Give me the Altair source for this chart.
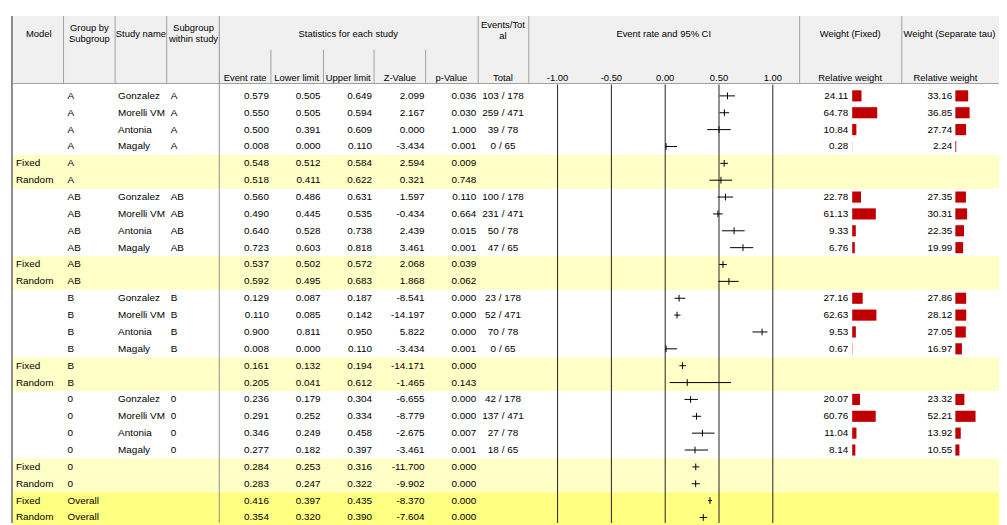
import altair as alt
import pandas as pd

# ---------------- data ----------------
model = ["", "", "", "", "Fixed", "Random"] * 4 + ["Fixed", "Random"]
group = ["A"] * 6 + ["AB"] * 6 + ["B"] * 6 + ["0"] * 6 + ["Overall"] * 2
study = ["Gonzalez", "Morelli VM", "Antonia", "Magaly", "", ""] * 4 + ["", ""]
sub_within = (["A"] * 4 + ["", ""] + ["AB"] * 4 + ["", ""] + ["B"] * 4 + ["", ""]
              + ["0"] * 4 + ["", ""] + ["", ""])
kind = (["study"] * 4 + ["sub"] * 2) * 4 + ["overall"] * 2

event_rate = [0.579, 0.550, 0.500, 0.008, 0.548, 0.518,
              0.560, 0.490, 0.640, 0.723, 0.537, 0.592,
              0.129, 0.110, 0.900, 0.008, 0.161, 0.205,
              0.236, 0.291, 0.346, 0.277, 0.284, 0.283,
              0.416, 0.354]
lower_limit = [0.505, 0.505, 0.391, 0.000, 0.512, 0.411,
               0.486, 0.445, 0.528, 0.603, 0.502, 0.495,
               0.087, 0.085, 0.811, 0.000, 0.132, 0.041,
               0.179, 0.252, 0.249, 0.182, 0.253, 0.247,
               0.397, 0.320]
upper_limit = [0.649, 0.594, 0.609, 0.110, 0.584, 0.622,
               0.631, 0.535, 0.738, 0.818, 0.572, 0.683,
               0.187, 0.142, 0.950, 0.110, 0.194, 0.612,
               0.304, 0.334, 0.458, 0.397, 0.316, 0.322,
               0.435, 0.390]
z_value = [2.099, 2.167, 0.000, -3.434, 2.594, 0.321,
           1.597, -0.434, 2.439, 3.461, 2.068, 1.868,
           -8.541, -14.197, 5.822, -3.434, -14.171, -1.465,
           -6.655, -8.779, -2.675, -3.461, -11.700, -9.902,
           -8.370, -7.604]
p_value = [0.036, 0.030, 1.000, 0.001, 0.009, 0.748,
           0.110, 0.664, 0.015, 0.001, 0.039, 0.062,
           0.000, 0.000, 0.000, 0.001, 0.000, 0.143,
           0.000, 0.000, 0.007, 0.001, 0.000, 0.000,
           0.000, 0.000]
events_total = ["103 / 178", "259 / 471", "39 / 78", "0 / 65", "", "",
                "100 / 178", "231 / 471", "50 / 78", "47 / 65", "", "",
                "23 / 178", "52 / 471", "70 / 78", "0 / 65", "", "",
                "42 / 178", "137 / 471", "27 / 78", "18 / 65", "", "",
                "", ""]
weight_fixed = [24.11, 64.78, 10.84, 0.28, None, None,
                22.78, 61.13, 9.33, 6.76, None, None,
                27.16, 62.63, 9.53, 0.67, None, None,
                20.07, 60.76, 11.04, 8.14, None, None,
                None, None]
weight_sep = [33.16, 36.85, 27.74, 2.24, None, None,
              27.35, 30.31, 22.35, 19.99, None, None,
              27.86, 28.12, 27.05, 16.97, None, None,
              23.32, 52.21, 13.92, 10.55, None, None,
              None, None]

ticks = [-1.0, -0.5, 0.0, 0.5, 1.0]
tick_labels = ["-1.00", "-0.50", "0.00", "0.50", "1.00"]

# ---------------- tables ----------------
def f3(v):
    return f"{v:.3f}"

def f2(v):
    return "" if v is None else f"{v:.2f}"

df = pd.DataFrame({
    "row": list(range(len(model))),
    "model": model, "group": group, "study": study, "within": sub_within,
    "kind": kind,
    "er": event_rate, "lo": lower_limit, "hi": upper_limit,
    "er_s": [f3(v) for v in event_rate],
    "lo_s": [f3(v) for v in lower_limit],
    "hi_s": [f3(v) for v in upper_limit],
    "z_s": [f3(v) for v in z_value],
    "p_s": [f3(v) for v in p_value],
    "ev": events_total,
    "wf": weight_fixed, "ws": weight_sep,
    "wf_s": [f2(v) for v in weight_fixed],
    "ws_s": [f2(v) for v in weight_sep],
})
tick_df = pd.DataFrame({"t": ticks, "lab": tick_labels})
one = pd.DataFrame({"k": [0]})

# ---------------- style ----------------
FONT = "Liberation Sans, Arial, sans-serif"
FS = 10
FSH = 9.5
GRID = "#A0A0A0"
YS = alt.Scale(domain=[-0.5, 25.5], range=[78, 520])
FXS = dict(domain=[-1, 1], range=[554, 771], nice=False, zero=False)


def Y(f):
    return alt.Y(f, type="quantitative", scale=YS, axis=None)


def FX(f):
    return alt.X(f, type="quantitative", scale=alt.Scale(**FXS), axis=None)


def vrule(x, y0, y1, color=GRID, w=1):
    return alt.Chart(one).mark_rule(color=color, strokeWidth=w).encode(
        x=alt.value(x), y=alt.value(y0), y2=alt.value(y1))


def hrule(x0, x1, y, color=GRID, w=1):
    return alt.Chart(one).mark_rule(color=color, strokeWidth=w).encode(
        x=alt.value(x0), x2=alt.value(x1), y=alt.value(y))


def htext(txt, x, y, align="center"):
    return alt.Chart(one).mark_text(
        text=txt, align=align, baseline="middle", font=FONT, fontSize=FSH,
        color="black").encode(x=alt.value(x), y=alt.value(y))


def col_text(field, x, align):
    return alt.Chart(df).mark_text(
        align=align, baseline="middle", font=FONT, fontSize=FS,
        color="black").encode(x=alt.value(x), y=Y("row"), text=f"{field}:N")


layers = []

# header background
layers.append(alt.Chart(one).mark_rect(color="#F0F0F0").encode(
    x=alt.value(5), x2=alt.value(999), y=alt.value(6), y2=alt.value(74)))

# summary row backgrounds
layers.append(
    alt.Chart(df).transform_filter(alt.datum.kind != "study")
    .transform_calculate(y0="datum.row - 0.5", y1="datum.row + 0.5")
    .mark_rect().encode(
        x=alt.value(5), x2=alt.value(999), y=Y("y0"), y2=alt.Y2("y1"),
        color=alt.Color("kind:N", legend=None,
                        scale=alt.Scale(domain=["sub", "overall"],
                                        range=["#FFFFC6", "#FFFF82"]))))

# header lines
for x in [56, 108, 160, 474, 525, 798, 901]:
    layers.append(vrule(x, 6, 74))
for x in [265, 318, 369, 421]:
    layers.append(vrule(x, 40, 74))
layers.append(vrule(213, 6, 517, color="#909090"))
layers.append(hrule(5, 999, 74))
layers.append(vrule(4, 6, 517, color="#8C8C8C", w=2))

# forest gridlines
layers.append(alt.Chart(tick_df).mark_rule(color="#202020", strokeWidth=1).encode(
    x=FX("t"), y=alt.value(75), y2=alt.value(517)))
layers.append(alt.Chart(tick_df).mark_text(
    align="center", baseline="middle", font=FONT, fontSize=FSH, color="black"
).encode(x=FX("t"), y=alt.value(68), text="lab:N"))

# header texts
layers += [
    htext("Model", 31, 24),
    htext("Group by", 82, 18), htext("Subgroup", 82, 29),
    htext("Study name", 134, 24),
    htext("Subgroup", 187, 18), htext("within study", 187, 29),
    htext("Statistics for each study", 343, 24),
    htext("Events/Tot", 499, 15), htext("al", 499, 26),
    htext("Event rate and 95% CI", 661, 24),
    htext("Weight (Fixed)", 849, 24),
    htext("Weight (Separate tau)", 949, 24),
    htext("Event rate", 239, 68), htext("Lower limit", 291, 68),
    htext("Upper limit", 343, 68), htext("Z-Value", 395, 68),
    htext("p-Value", 447, 68), htext("Total", 499, 68),
    htext("Relative weight", 849, 68), htext("Relative weight", 945, 68),
]

# body columns
layers += [
    col_text("model", 8, "left"),
    col_text("group", 60, "left"),
    col_text("study", 111, "left"),
    col_text("within", 164, "left"),
    col_text("er_s", 263, "right"),
    col_text("lo_s", 315, "right"),
    col_text("hi_s", 367, "right"),
    col_text("z_s", 420, "right"),
    col_text("p_s", 472, "right"),
    col_text("ev", 499, "center"),
    col_text("wf_s", 847, "right"),
    col_text("ws_s", 952, "right"),
]

# confidence intervals and point estimates
layers.append(alt.Chart(df).mark_rule(color="black", strokeWidth=1).encode(
    x=FX("lo"), x2=alt.X2("hi"), y=Y("row")))
layers.append(alt.Chart(df).transform_calculate(
    ya="datum.row - 0.2", yb="datum.row + 0.2"
).mark_rule(color="black", strokeWidth=1).encode(
    x=FX("er"), y=Y("ya"), y2=alt.Y2("yb")))

# weight bars
for field, start in [("wf", 851), ("ws", 955)]:
    layers.append(
        alt.Chart(df).transform_filter(f"datum.{field} != null")
        .transform_calculate(z0="0", ba="datum.row - 0.33", bb="datum.row + 0.33")
        .mark_rect(color="#C00000").encode(
            x=alt.X("z0:Q", axis=None,
                    scale=alt.Scale(domain=[0, 100], range=[start, start + 39],
                                    nice=False, zero=True)),
            x2=alt.X2(f"{field}:Q"),
            y=Y("ba"), y2=alt.Y2("bb")))

chart = alt.layer(*layers).resolve_scale(x="independent").properties(
    width=999, height=517, padding=0,
    autosize=alt.AutoSizeParams(type="none"),
).configure_view(stroke=None)

chart.save("out.html", embed_options={"renderer": "svg", "actions": False})
